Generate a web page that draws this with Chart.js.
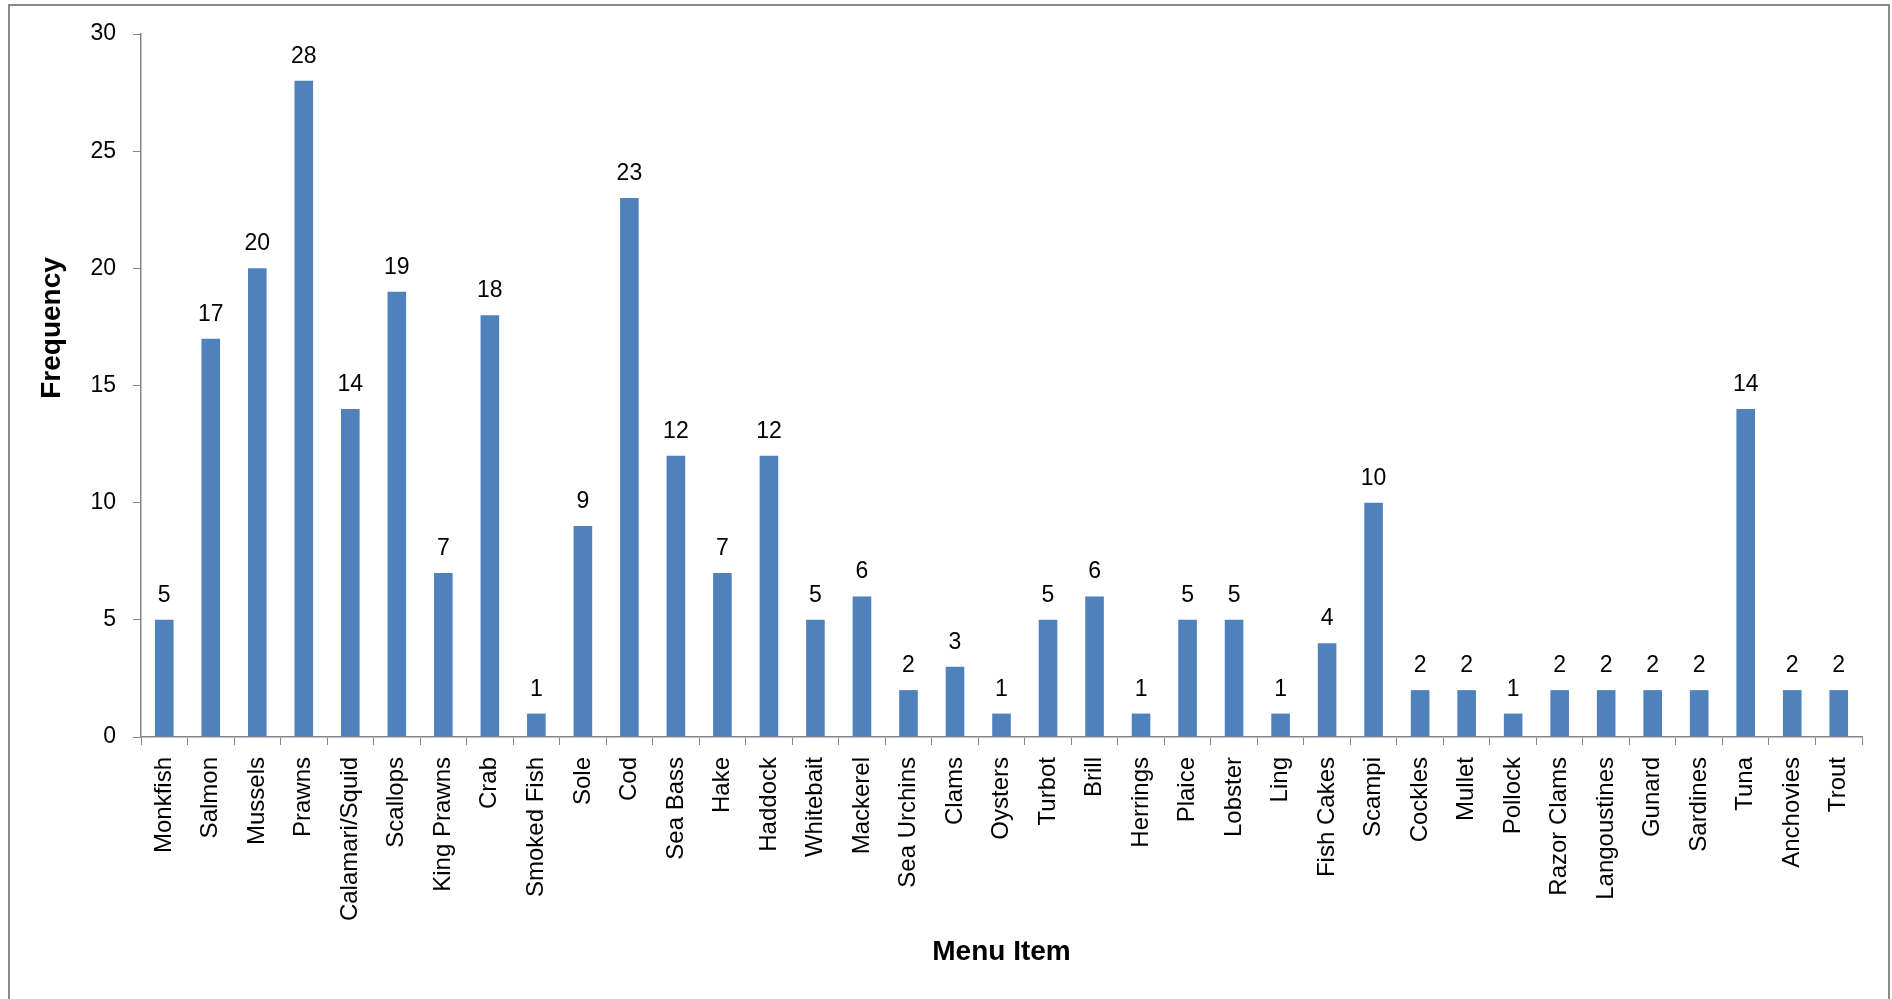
<!DOCTYPE html>
<html>
<head>
<meta charset="utf-8">
<script src="https://cdn.jsdelivr.net/npm/chart.js@4"></script>
<style>
  html, body { margin: 0; padding: 0; background: #fff; }
  #wrap { position: relative; width: 1892px; height: 999px; }
  #frame {
    position: absolute; left: 8px; top: 4px; width: 1882px; height: 1000px;
    border: 2px solid #8a8a8a; box-sizing: border-box;
  }
  canvas { position: absolute; left: 0; top: 0; }
</style>
</head>
<body>
<div id="wrap">
  <div id="frame"></div>
  <canvas id="freqChart" width="1892" height="999"></canvas>
</div>
<script>
/* =======================
   DATA
======================= */
const menuItems = [
  "Monkfish", "Salmon", "Mussels", "Prawns", "Calamari/Squid", "Scallops",
  "King Prawns", "Crab", "Smoked Fish", "Sole", "Cod", "Sea Bass", "Hake",
  "Haddock", "Whitebait", "Mackerel", "Sea Urchins", "Clams", "Oysters",
  "Turbot", "Brill", "Herrings", "Plaice", "Lobster", "Ling", "Fish Cakes",
  "Scampi", "Cockles", "Mullet", "Pollock", "Razor Clams", "Langoustines",
  "Gunard", "Sardines", "Tuna", "Anchovies", "Trout"
];
const frequency = [
  5, 17, 20, 28, 14, 19, 7, 18, 1, 9, 23, 12, 7, 12, 5, 6, 2, 3, 1,
  5, 6, 1, 5, 5, 1, 4, 10, 2, 2, 1, 2, 2, 2, 2, 14, 2, 2
];
const yTicks = [0, 5, 10, 15, 20, 25, 30];
const yTitle = "Frequency";
const xTitle = "Menu Item";

const FONT = "'Liberation Sans', Arial, sans-serif";
const AXIS_GREY = "#868686";

/* =======================
   VALUE LABELS + Y TITLE
======================= */
const barLabels = {
  id: "barLabels",
  afterDatasetsDraw(chart) {
    const ctx = chart.ctx;
    const meta = chart.getDatasetMeta(0);
    ctx.save();
    ctx.font = "23px " + FONT;
    ctx.fillStyle = "#000";
    ctx.textAlign = "center";
    ctx.textBaseline = "alphabetic";
    meta.data.forEach((bar, i) => {
      ctx.fillText(String(frequency[i]), bar.x, bar.y - 18);
    });
    ctx.restore();
  }
};

// y axis title sits a bit above the plot middle, like the original
const yAxisTitle = {
  id: "yAxisTitle",
  afterDraw(chart) {
    const ctx = chart.ctx;
    ctx.save();
    ctx.translate(52, 328);
    ctx.rotate(-Math.PI / 2);
    ctx.font = "bold 28px " + FONT;
    ctx.fillStyle = "#000";
    ctx.textAlign = "center";
    ctx.textBaseline = "middle";
    ctx.fillText(yTitle, 0, 0);
    ctx.restore();
  }
};

/* =======================
   CHART
======================= */
new Chart(document.getElementById("freqChart"), {
  type: "bar",
  data: {
    labels: menuItems,
    datasets: [{
      label: yTitle,
      data: frequency,
      backgroundColor: "#4F81BD",
      barPercentage: 0.4,
      categoryPercentage: 1.0
    }]
  },
  options: {
    responsive: false,
    animation: false,
    layout: { padding: { left: 10, top: 34, right: 30, bottom: 0 } },
    plugins: {
      legend: { display: false },
      tooltip: { enabled: false }
    },
    scales: {
      x: {
        grid: {
          display: true,
          drawOnChartArea: false,
          drawTicks: true,
          tickLength: 8,
          color: AXIS_GREY,
          offset: true
        },
        border: { display: true, color: AXIS_GREY, width: 1.5 },
        ticks: {
          autoSkip: false,
          minRotation: 90,
          maxRotation: 90,
          padding: 12,
          color: "#000",
          font: { family: FONT, size: 24 }
        },
        title: {
          display: true,
          text: xTitle,
          color: "#000",
          font: { family: FONT, size: 28, weight: "bold" },
          padding: { top: 0, bottom: 30 }
        },
        afterFit(scale) { scale.height = 262; }
      },
      y: {
        min: 0,
        max: 30,
        afterBuildTicks(scale) {
          scale.ticks = yTicks.map(v => ({ value: v }));
        },
        grid: {
          display: true,
          drawOnChartArea: false,
          drawTicks: true,
          tickLength: 8,
          color: AXIS_GREY
        },
        border: { display: true, color: AXIS_GREY, width: 1.5 },
        ticks: {
          padding: 17,
          color: "#000",
          font: { family: FONT, size: 23 }
        },
        title: { display: false },
        afterFit(scale) { scale.width = 131; }
      }
    }
  },
  plugins: [barLabels, yAxisTitle]
});
</script>
</body>
</html>
